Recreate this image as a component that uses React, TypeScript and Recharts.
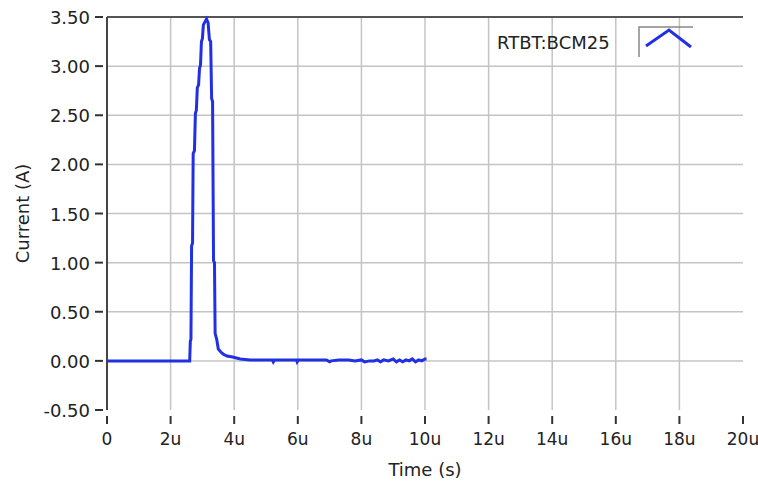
import { LineChart, Line, XAxis, YAxis, Legend, ReferenceLine } from 'recharts'

// sample times in microseconds
const timeUs = [
  0, 1.0, 2.0, 2.6, 2.62, 2.64, 2.66, 2.69, 2.71, 2.75, 2.78, 2.81, 2.84, 2.88, 2.91, 2.94,
  2.97, 3.0, 3.03, 3.08, 3.13, 3.18, 3.22, 3.26, 3.29, 3.32, 3.35, 3.38, 3.4, 3.45, 3.5, 3.58,
  3.65, 3.77, 3.95, 4.19, 4.5, 5.0, 5.2, 5.23, 5.27, 5.5, 5.96, 5.98, 6.02, 6.5, 6.9, 7.0, 7.05,
  7.3, 7.6, 7.8, 8.0, 8.1, 8.25, 8.4, 8.5, 8.6, 8.7, 8.85, 9.0, 9.1, 9.2, 9.3, 9.4, 9.5, 9.6,
  9.7, 9.8, 9.9, 10.0, 10.05,
]
// BCM current in amps
const current = [
  0, 0, 0, 0, 0.2, 0.22, 1.17, 1.2, 2.11, 2.14, 2.52, 2.55, 2.78, 2.81, 2.98, 3.01,
  3.25, 3.28, 3.42, 3.45, 3.48, 3.44, 3.27, 3.25, 2.67, 2.64, 1.02, 1.0, 0.28, 0.22, 0.12, 0.09,
  0.07, 0.05, 0.04, 0.02, 0.01, 0.01, 0.01, -0.01, 0.01, 0.01, 0.01, -0.01, 0.01, 0.01, 0.01, -0.01, 0.0,
  0.01, 0.01, 0.0, 0.01, -0.01, 0.0, 0.0, 0.01, -0.01, 0.01, 0.0, 0.02, -0.01, 0.01, -0.01, 0.01, 0.0, 0.02,
  -0.01, 0.01, 0.0, 0.02, 0.02,
]

const xTicks = [0, 2, 4, 6, 8, 10, 12, 14, 16, 18, 20]
const yTicks = [-0.5, 0, 0.5, 1, 1.5, 2, 2.5, 3, 3.5]
const xGrid = [2, 4, 6, 8, 10, 12, 14, 16, 18]
const yGrid = [0, 0.5, 1, 1.5, 2, 2.5, 3]
const seriesName = 'RTBT:BCM25'

const rows = timeUs.map((t, i) => ({ t, current: current[i] }))

const font = '"DejaVu Sans", sans-serif'
const textColor = '#222'
const blue = '#2230e4'
const gridColor = '#c4c4c4'

function XTick({ x, y, payload }: any) {
  const v = payload.value
  return (
    <g>
      <line x1={x} x2={x} y1={y + 6} y2={y + 14} stroke="#333" strokeWidth={2} />
      <text x={x} y={y + 35} textAnchor="middle" fontSize={17} fontFamily={font} fill={textColor}>
        {v === 0 ? '0' : `${v}u`}
      </text>
    </g>
  )
}

function YTick({ x, y, payload }: any) {
  return (
    <g>
      <line x1={x - 12} x2={x - 4} y1={y} y2={y} stroke="#333" strokeWidth={2} />
      <text x={x - 17} y={y + 7} textAnchor="end" fontSize={18} fontFamily={font} fill={textColor}>
        {payload.value.toFixed(2)}
      </text>
    </g>
  )
}

function YLabel({ viewBox }: any) {
  const cx = viewBox.x + 22
  const cy = viewBox.y + viewBox.height / 2
  return (
    <text
      x={cx}
      y={cy}
      transform={`rotate(-90 ${cx} ${cy})`}
      textAnchor="middle"
      dominantBaseline="central"
      fontSize={18}
      fontFamily={font}
      fill={textColor}
    >
      Current (A)
    </text>
  )
}

function LegendBox() {
  return (
    <div style={{ display: 'flex', alignItems: 'flex-start', fontFamily: font, fontSize: 18, color: textColor }}>
      <span style={{ marginTop: 6, whiteSpace: 'nowrap' }}>{seriesName}</span>
      <svg width={56} height={32} style={{ marginLeft: 28 }}>
        <path d="M1 31 V1 H55" fill="none" stroke="#888" strokeWidth={1.5} />
        <path d="M8 20 L31 4 L53 21" fill="none" stroke={blue} strokeWidth={3} />
      </svg>
    </div>
  )
}

export default function App() {
  return (
    <div style={{ position: 'absolute', left: 0, top: 0, width: 758, height: 481, background: '#fff' }}>
      <LineChart width={758} height={481} data={rows} margin={{ top: 17, right: 15, left: 0, bottom: 0 }}>
        {yGrid.map((v) => (
          <ReferenceLine key={`h${v}`} y={v} stroke={gridColor} strokeWidth={1.5} />
        ))}
        {xGrid.map((v) => (
          <ReferenceLine key={`v${v}`} x={v} stroke={gridColor} strokeWidth={1.5} />
        ))}
        <ReferenceLine y={3.5} stroke="#555" strokeWidth={2} />
        <XAxis
          dataKey="t"
          type="number"
          domain={[0, 20]}
          ticks={xTicks}
          interval={0}
          height={71}
          axisLine={false}
          tickLine={false}
          tickSize={0}
          tickMargin={0}
          tick={<XTick />}
          label={{ value: 'Time (s)', position: 'insideBottom', offset: 5, fontSize: 18, fontFamily: font, fill: textColor }}
        />
        <YAxis
          type="number"
          domain={[-0.5, 3.5]}
          ticks={yTicks}
          interval={0}
          width={107}
          axisLine={{ stroke: '#444', strokeWidth: 2 }}
          tickLine={false}
          tickSize={0}
          tickMargin={0}
          tick={<YTick />}
          label={<YLabel />}
        />
        <Legend
          layout="vertical"
          align="center"
          verticalAlign="middle"
          content={<LegendBox />}
          wrapperStyle={{ position: 'absolute', left: 497, top: 26, width: 'auto' }}
        />
        <Line
          type="linear"
          dataKey="current"
          name={seriesName}
          stroke={blue}
          strokeWidth={3}
          dot={false}
          isAnimationActive={false}
        />
      </LineChart>
    </div>
  )
}
